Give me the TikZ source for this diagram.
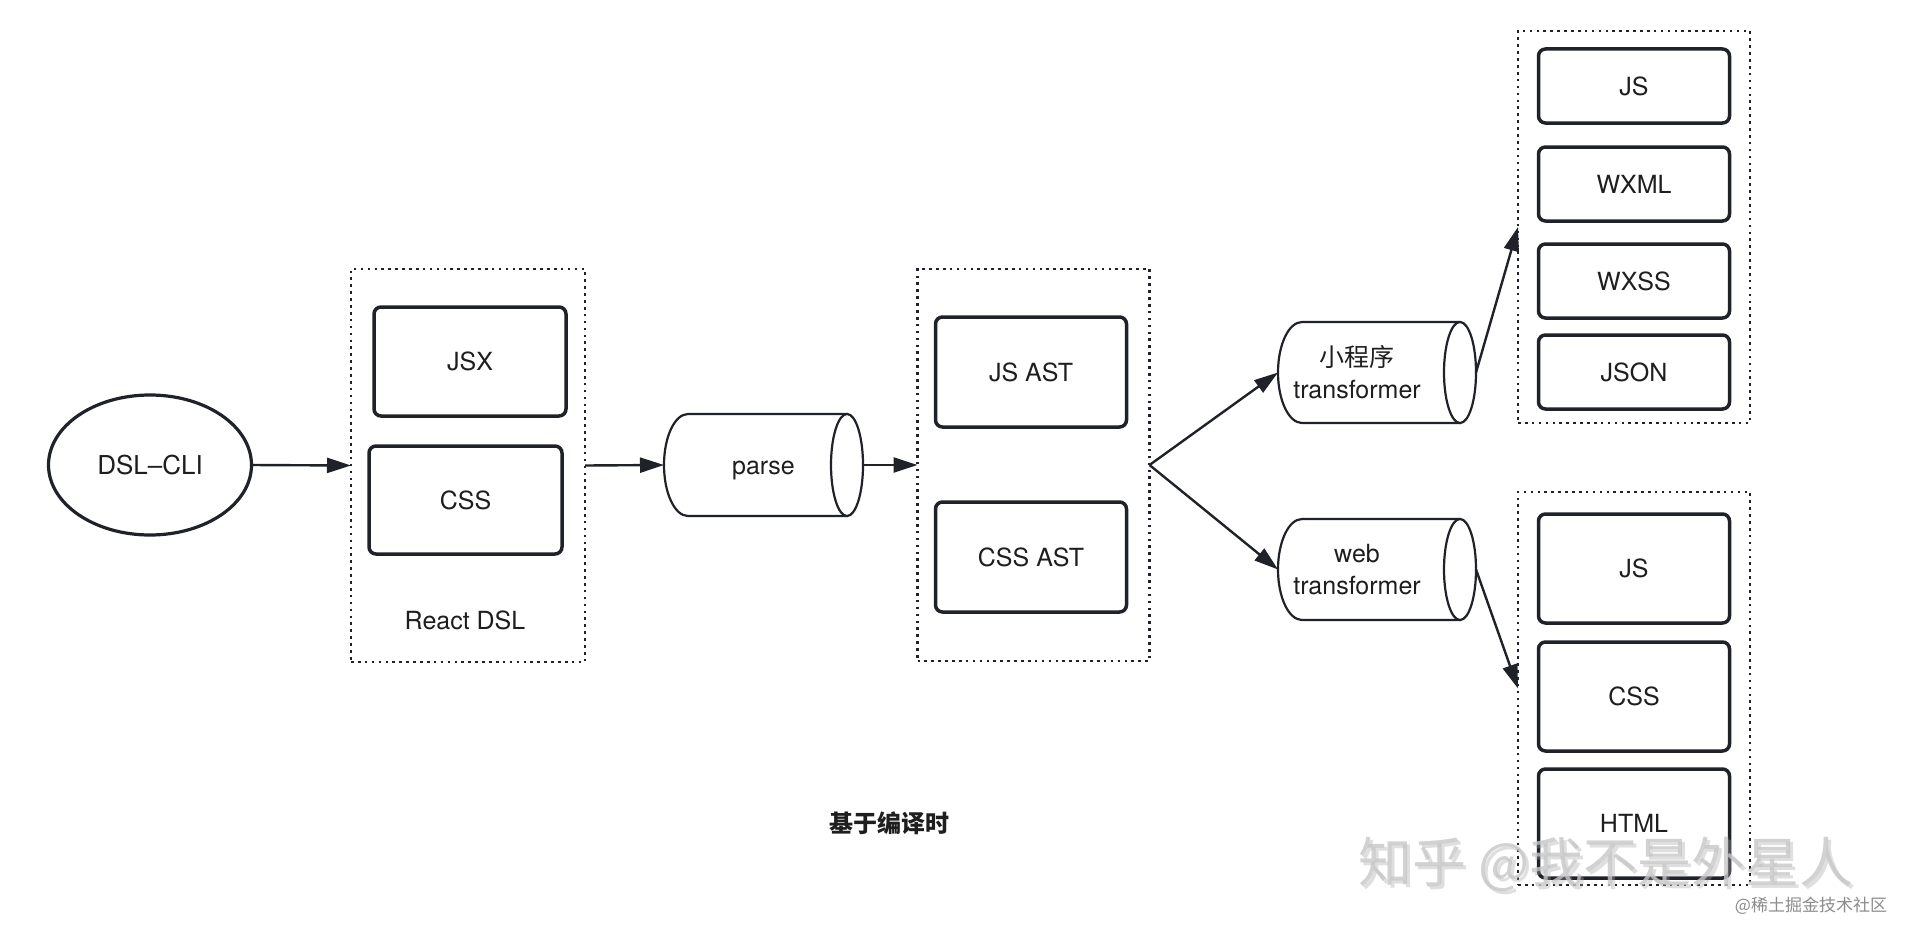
\documentclass[tikz,border=0pt]{standalone}
\usepackage{fontspec}
\setmainfont{TeX Gyre Heros}
\newfontfamily\cjk{Noto Sans CJK SC}
\usetikzlibrary{shapes.geometric,arrows.meta,calc}
\definecolor{ink}{HTML}{1F2329}
\definecolor{txt}{HTML}{1E1E1E}
\tikzset{
  lblfont/.style={font=\fontsize{25}{32}\selectfont, text=txt},
  box/.style={draw=ink, line width=3.5pt, rounded corners=7pt, fill=white,
    inner sep=0pt, outer sep=0pt, lblfont},
  grp/.style={draw=ink, line width=2.6pt, dash pattern=on 2.6pt off 4.3pt,
    inner sep=0pt, outer sep=0pt},
  cylnode/.style={inner sep=0pt, outer sep=0pt, lblfont, align=center},
  cyl/.style={draw=ink, line width=2.2pt, fill=white},
  arr/.style={draw=ink, line width=2.4pt, -{Triangle[length=24pt,width=15pt]}},
  oval/.style={ellipse, draw=ink, line width=3.2pt, inner sep=0pt, outer sep=0pt, lblfont},
}
% cylinder outline: #1 node, #2 left arc x-radius, #3 cap x-radius
\newcommand{\cylout}[3]{%
  \draw[cyl] let \p1=(#1.north west), \p2=(#1.south east), \n1={(\y1-\y2)/2} in
    (\x1+#2pt,\y1) arc[start angle=90,end angle=270,x radius=#2pt,y radius=\n1]
    -- (\x2-#3pt,\y2) -- (\x2-#3pt,\y1) -- cycle;
  \draw[cyl] let \p1=(#1.north west), \p2=(#1.south east), \n1={(\y1-\y2)/2} in
    (\x2-#3pt,{(\y1+\y2)/2}) ellipse[x radius=#3pt, y radius=\n1];
}
\begin{document}
\begin{tikzpicture}[x=1pt,y=-1pt]
\fill[white] (0,0) rectangle (1916,942);
\useasboundingbox (0,0) rectangle (1916,942);

% DSL-CLI
\node[oval, minimum width=203pt, minimum height=140pt, font=\fontsize{26}{32}\selectfont] (cli) at (150,465) {DSL–CLI};

% React DSL group
\node[grp, minimum width=234pt, minimum height=393pt] (react) at (468,465.5) {};
\node[box, minimum width=192pt, minimum height=109pt] (jsx) at (470,361.5) {JSX};
\node[box, minimum width=193pt, minimum height=108pt] (css1) at (465.5,500) {CSS};
\node[lblfont] (reactlbl) at (465,620) {React DSL};

% parse
\node[cylnode, minimum width=199pt, minimum height=102pt] (parse) at (763.5,465) {};
\cylout{parse}{24}{16}
\node[lblfont, anchor=base] at ([yshift=-9pt]parse.center) {parse};

% AST group
\node[grp, minimum width=232pt, minimum height=392pt] (ast) at (1033.5,465) {};
\node[box, minimum width=191pt, minimum height=110pt] (jsast) at (1031,372) {JS AST};
\node[box, minimum width=191pt, minimum height=110pt] (cssast) at (1031,557) {CSS AST};

% transformers
\node[cylnode, minimum width=198pt, minimum height=101pt] (mp) at (1377,372.5) {};
\cylout{mp}{24}{16}
\node[cylnode] at ([xshift=-20pt]mp.center) {{\cjk 小程序}\\transformer};

\node[cylnode, minimum width=198pt, minimum height=101pt] (web) at (1377,569.5) {};
\cylout{web}{24}{16}
\node[cylnode] at ([xshift=-20pt]web.center) {web\\transformer};

% mini program output group
\node[grp, minimum width=232pt, minimum height=392pt] (mpbox) at (1634,227) {};
\node[box, minimum width=191pt, minimum height=74pt] (js1) at (1634,86) {JS};
\node[box, minimum width=191pt, minimum height=74pt] (wxml) at (1634,184) {WXML};
\node[box, minimum width=191pt, minimum height=74pt] (wxss) at (1634,281) {WXSS};
\node[box, minimum width=191pt, minimum height=74pt] (json) at (1634,372) {JSON};

% web output group
\node[grp, minimum width=232pt, minimum height=393pt] (webbox) at (1634,688.5) {};
\node[box, minimum width=191pt, minimum height=109pt] (js2) at (1634,568.5) {JS};
\node[box, minimum width=191pt, minimum height=109pt] (css2) at (1634,696.5) {CSS};
\node[box, minimum width=191pt, minimum height=109pt] (html) at (1634,823.5) {HTML};

% arrows
\draw[arr] (cli.east) -- (react.west);
\draw[arr] (react.east) -- (parse.west);
\draw[arr] (parse.east) -- (ast.west);
\draw[arr] (ast.east) -- (mp.west);
\draw[arr] (ast.east) -- (web.west);
\draw[arr] (mp.east) -- (mpbox.west);
\draw[arr] (web.east) -- (webbox.west);

% caption
\node[font=\cjk\bfseries\fontsize{24}{28}\selectfont, text=txt] (cap) at (889,823) {基于编译时};

% watermarks
\node[font=\cjk\fontsize{54}{60}\selectfont, text=black!35, opacity=0.35] (wmshadow) at (1609,867) {知乎 @我不是外星人};
\node[font=\cjk\fontsize{54}{60}\selectfont, text=black!22, opacity=0.8] (wm) at (1606,864) {知乎 @我不是外星人};
\node[font=\cjk\fontsize{17}{20}\selectfont, text=black!45] (wm2) at (1811,905.5) {@稀土掘金技术社区};
\end{tikzpicture}
\end{document}
